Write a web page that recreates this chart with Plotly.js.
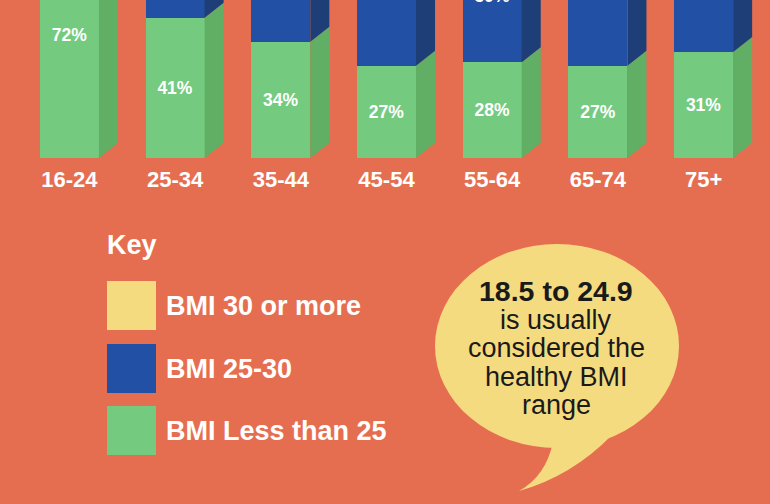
<!DOCTYPE html>
<html>
<head>
<meta charset="utf-8">
<script src="https://cdn.plot.ly/plotly-3.0.1.min.js"></script>
<style>
html,body{margin:0;padding:0;background:#E66E50;}
#chart{width:770px;height:504px;}
</style>
</head>
<body>
<div id="chart"></div>
<script>
// ---- data ----
const categories = ['16-24', '25-34', '35-44', '45-54', '55-64', '65-74', '75+'];
const bmiUnder25 = [72, 41, 34, 27, 28, 27, 31];
const bmi25to30  = [18, 34, 38, 46, 39, 42, 40];
const bmi30plus  = [10, 25, 28, 27, 33, 31, 29];
const seriesNames = ['BMI 30 or more', 'BMI 25-30', 'BMI Less than 25'];
const keyTitle = 'Key';
const bubbleLines = ['18.5 to 24.9', 'is usually', 'considered the', 'healthy BMI', 'range'];

// ---- styles ----
const BG = '#E66E50';
const GREEN = '#74CB80', GREEN_SIDE = '#60AF64';
const BLUE = '#2250A4', BLUE_SIDE = '#1D3E76';
const YELLOW = '#F5DB80', YELLOW_SIDE = '#D9BF66';
const FONT = 'Liberation Sans, Arial, sans-serif';
const W = 770, H = 504;
const BAR_W = 0.558, DX = 0.18, DY = 4.39;

const idx = categories.map((c, i) => i);
const greenTop = bmiUnder25.slice();
const blueTop = bmiUnder25.map((v, i) => v + bmi25to30[i]);
const yellowTop = blueTop.map((v, i) => v + bmi30plus[i]);

function sideTrace(bottoms, tops, color) {
  const xs = [], ys = [];
  idx.forEach(i => {
    const xr = i + BAR_W / 2;
    xs.push(xr, xr + DX, xr + DX, xr, xr, null);
    ys.push(bottoms[i], bottoms[i] + DY, tops[i] + DY, tops[i], bottoms[i], null);
  });
  return {type: 'scatter', mode: 'lines', x: xs, y: ys, fill: 'toself', fillcolor: color,
          line: {width: 0, color: color}, hoverinfo: 'skip', showlegend: false};
}

function barTrace(vals, color, name) {
  return {type: 'bar', x: idx, y: vals, name: name, width: BAR_W,
          marker: {color: color, line: {width: 0}},
          texttemplate: '%{y}%', textposition: 'inside', insidetextanchor: 'middle',
          constraintext: 'none',
          textfont: {family: FONT, size: 17.5, color: '#FFFFFF', weight: 700}};
}

const traces = [
  barTrace(bmiUnder25, GREEN, seriesNames[2]),
  barTrace(bmi25to30, BLUE, seriesNames[1]),
  barTrace(bmi30plus, YELLOW, seriesNames[0]),
  sideTrace(idx.map(() => 0), greenTop, GREEN_SIDE),
  sideTrace(greenTop, blueTop, BLUE_SIDE),
  sideTrace(blueTop, yellowTop, YELLOW_SIDE)
];

const px = x => x / W;
const py = y => 1 - y / H;

const shapes = [];
const annotations = [];

// key
annotations.push({xref: 'paper', yref: 'paper', x: px(106), y: py(245), xanchor: 'left', yanchor: 'middle',
  text: keyTitle, showarrow: false, borderpad: 0, font: {family: FONT, size: 27, color: '#FFFFFF', weight: 700}});
const keyColors = [YELLOW, BLUE, GREEN];
const keyTops = [281, 344, 406];
seriesNames.forEach((n, k) => {
  const t = keyTops[k];
  shapes.push({type: 'rect', xref: 'paper', yref: 'paper', x0: px(107), x1: px(156), y0: py(t + 49), y1: py(t),
    fillcolor: keyColors[k], line: {width: 0}, layer: 'above'});
  annotations.push({xref: 'paper', yref: 'paper', x: px(165), y: py(t + 25), xanchor: 'left', yanchor: 'middle',
    text: n, showarrow: false, borderpad: 0, font: {family: FONT, size: 27, color: '#FFFFFF', weight: 700}});
});

// speech bubble
shapes.push({type: 'circle', xref: 'paper', yref: 'paper', x0: px(435), x1: px(679), y0: py(448), y1: py(244),
  fillcolor: YELLOW, line: {width: 0}, layer: 'above'});
shapes.push({type: 'path', xref: 'paper', yref: 'paper',
  path: `M ${px(553)},${py(442)} Q ${px(546)},${py(476)} ${px(519)},${py(491)} Q ${px(572)},${py(476)} ${px(612)},${py(435)} Z`,
  fillcolor: YELLOW, line: {width: 0}, layer: 'above'});
const lineY = [291, 319.5, 348, 377, 405];
bubbleLines.forEach((t, k) => {
  annotations.push({xref: 'paper', yref: 'paper', x: px(556), y: py(lineY[k]), xanchor: 'center', yanchor: 'middle',
    text: t, showarrow: false, borderpad: 0,
    font: {family: FONT, size: k === 0 ? 28.5 : 27, color: '#1A1A1A', weight: k === 0 ? 700 : 400}});
});

const layout = {
  width: W, height: H,
  paper_bgcolor: BG, plot_bgcolor: BG,
  margin: {l: 0, r: 0, t: 0, b: 0, pad: 0},
  barmode: 'stack', showlegend: false,
  xaxis: {range: [-0.6566, 6.628], showgrid: false, zeroline: false, showline: false,
          tickvals: idx, ticktext: categories, ticks: '', ticklabelstandoff: 6,
          tickfont: {family: FONT, size: 22, color: '#FFFFFF', weight: 700}, fixedrange: true},
  yaxis: {domain: [1 - 158 / H, 1], range: [0, 46.2], visible: false, fixedrange: true},
  shapes: shapes,
  annotations: annotations
};

Plotly.newPlot('chart', traces, layout, {displayModeBar: false, staticPlot: true});
</script>
</body>
</html>
